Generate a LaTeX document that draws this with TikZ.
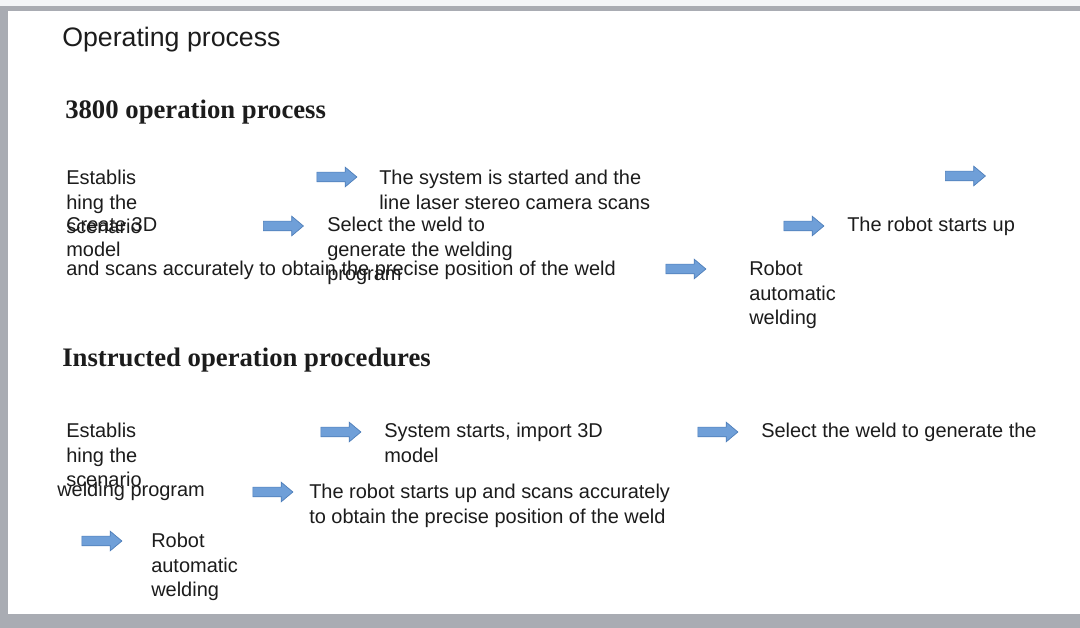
\documentclass[tikz,border=0pt]{standalone}
\usepackage{fontspec}
\setmainfont{Liberation Sans}
\newfontfamily\serifhead{Liberation Serif}
\usetikzlibrary{shapes.arrows}
\definecolor{arrfill}{HTML}{6F9FD8}
\definecolor{arrline}{HTML}{4F7FBA}
\definecolor{frame}{HTML}{A9ACB3}
\definecolor{paper}{HTML}{F3F5F8}
\definecolor{ink}{HTML}{1C1C1C}
% text lines stacked, first line on the node's baseline
\newcommand{\steplines}[1]{\begin{tabular}[t]{@{}l@{}}#1\end{tabular}}

\begin{document}
\begin{tikzpicture}[x=0.025cm, y=-0.025cm,
        txt/.style={anchor=base west, inner sep=0, text=ink,
                font=\fontsize{14.2}{17.4}\selectfont},
        title/.style={anchor=base west, inner sep=0, text=ink,
                font=\fontsize{19}{23}\selectfont},
        head/.style={anchor=base west, inner sep=0, text=ink,
                font=\serifhead\bfseries\fontsize{19}{23}\selectfont},
        flow/.style={single arrow, draw=arrline, fill=arrfill, line width=.5pt,
                inner sep=.1125cm, minimum height=1cm,
                single arrow head extend=.125cm, single arrow tip angle=80}]
    \useasboundingbox (0,0) rectangle (1080,628);
    % page and frame
    \fill[paper] (0,0) rectangle (1080,6);
    \fill[white] (8,11) rectangle (1080,614);
    \fill[frame] (0,6) rectangle (1080,11);
    \fill[frame] (0,6) rectangle (8,628);
    \fill[frame] (0,614) rectangle (1080,628);

    \node[title] (ttl) at (62,47) {Operating process};

    % 3800 operation process
    \node[head] (h1) at (65,119) {3800 operation process};
    \node[txt] (s1) at (66,185) {\steplines{Establis\\hing the\\scenario}};
    \node[txt] (s2) at (66,232) {\steplines{Create 3D\\model}};
    \node[txt] (s3) at (66,276) {and scans accurately to obtain the precise position of the weld};
    \node[txt] (s4) at (379,185) {\steplines{The system is started and the\\line laser stereo camera scans}};
    \node[txt] (s5) at (327,232) {\steplines{Select the weld to\\generate the welding\\program}};
    \node[txt] (s6) at (847,232) {The robot starts up};
    \node[txt] (s7) at (749,276) {\steplines{Robot\\automatic\\welding}};
    \node[flow] (a1) at (334,177) {};
    \node[flow] (a2) at (280.5,226) {};
    \node[flow] (a3) at (962.5,176) {};
    \node[flow] (a4) at (801,226) {};
    \node[flow] (a5) at (683,269) {};

    % instructed operation procedures
    \node[head] (h2) at (62,367) {Instructed operation procedures};
    \node[txt] (t1) at (66,438) {\steplines{Establis\\hing the\\scenario}};
    \node[txt] (t2) at (57,497) {welding program};
    \node[txt] (t3) at (384,438) {\steplines{System starts, import 3D\\model}};
    \node[txt] (t4) at (761,438) {Select the weld to generate the};
    \node[txt] (t5) at (309,499) {\steplines{The robot starts up and scans accurately\\to obtain the precise position of the weld}};
    \node[txt] (t6) at (151,548) {\steplines{Robot\\automatic\\welding}};
    \node[flow] (b1) at (338,432) {};
    \node[flow] (b2) at (715,432) {};
    \node[flow] (b3) at (270,492) {};
    \node[flow] (b4) at (99,541) {};
\end{tikzpicture}
\end{document}
